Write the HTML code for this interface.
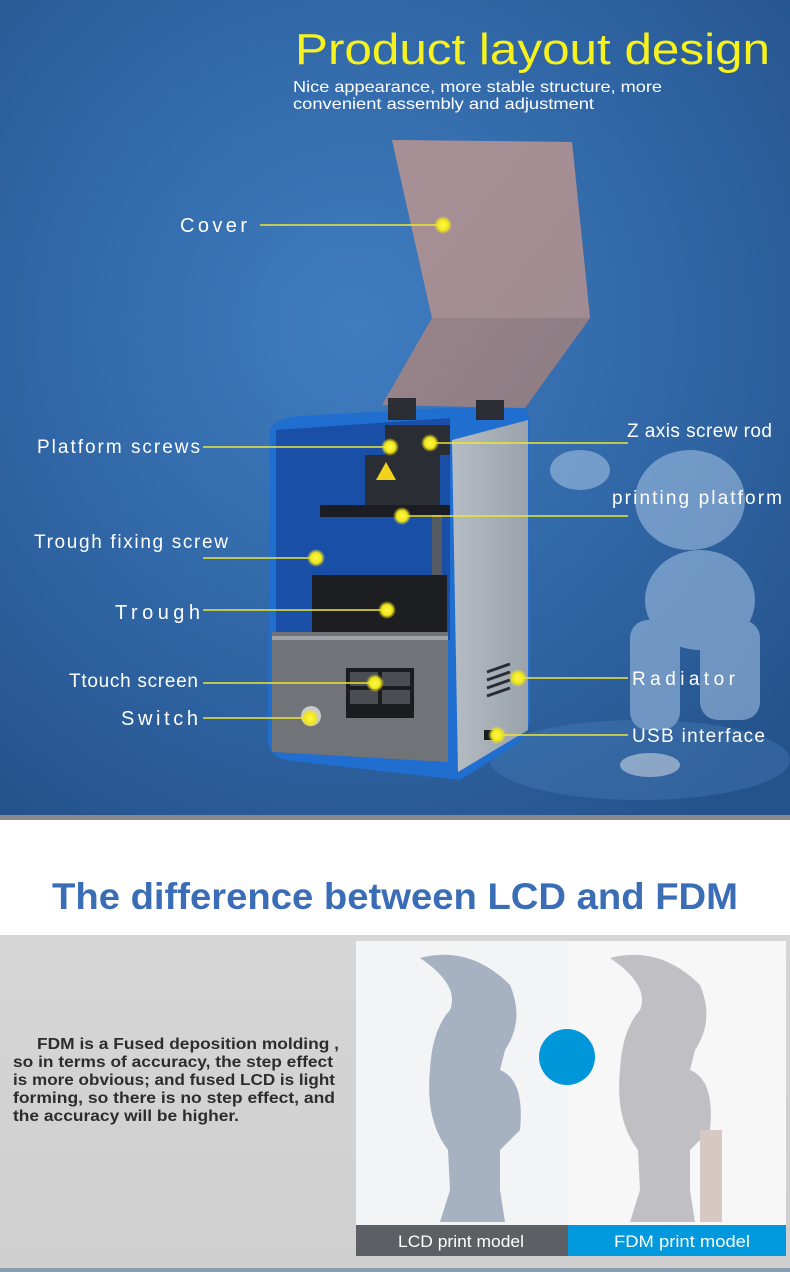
<!DOCTYPE html>
<html><head><meta charset="utf-8"><style>
body{margin:0;width:790px;height:1272px;overflow:hidden;font-family:"Liberation Sans",sans-serif;background:#fff}
</style></head><body>
<svg width="790" height="1272" viewBox="0 0 790 1272" xmlns="http://www.w3.org/2000/svg" style="position:absolute;left:0;top:0">
<defs>
<radialGradient id="bg" cx="0.45" cy="0.4" r="0.75">
<stop offset="0" stop-color="#3f7dc0"/><stop offset="0.6" stop-color="#2f64a3"/><stop offset="1" stop-color="#24528a"/></radialGradient>
<linearGradient id="cov" x1="0" y1="0" x2="1" y2="1"><stop offset="0" stop-color="#a08a8e"/><stop offset="1" stop-color="#8c7b83"/></linearGradient>
<linearGradient id="side" x1="0" y1="0" x2="1" y2="0"><stop offset="0" stop-color="#b5bcc4"/><stop offset="1" stop-color="#9aa2ab"/></linearGradient>
<linearGradient id="gr" x1="0" y1="0" x2="0" y2="1"><stop offset="0" stop-color="#d6d6d6"/><stop offset="1" stop-color="#cfcfcf"/></linearGradient>
<radialGradient id="dot"><stop offset="0" stop-color="#fff94a"/><stop offset="0.6" stop-color="#f0e61a"/><stop offset="1" stop-color="#f0e61a" stop-opacity="0"/></radialGradient>
</defs>
<rect x="0" y="0" width="790" height="815" fill="url(#bg)"/>
<rect x="0" y="815" width="790" height="5" fill="#3a3a3a" opacity="0.6"/>
<!-- robot -->
<g fill="#a9c6e6" opacity="0.55">
<ellipse cx="640" cy="760" rx="150" ry="40" fill="#4f86c0" opacity="0.6"/>
<ellipse cx="690" cy="500" rx="55" ry="50"/>
<ellipse cx="700" cy="600" rx="55" ry="50"/>
<rect x="630" y="620" width="50" height="110" rx="18"/>
<rect x="700" y="620" width="60" height="100" rx="18"/>
<ellipse cx="580" cy="470" rx="30" ry="20"/>
<ellipse cx="650" cy="765" rx="30" ry="12" fill="#dfe8f2"/>
</g>
<!-- cover -->
<polygon points="392,140 572,142 590,318 525,408 382,405 432,318" fill="url(#cov)"/>
<polygon points="392,140 572,142 590,318 432,318" fill="#a99398" opacity="0.7"/>
<!-- printer -->
<path d="M270,430 Q275,418 300,416 L445,408 L525,408 L530,420 L530,720 Q528,735 515,745 L460,780 L285,760 Q268,755 268,740 Z" fill="#1f6ed0"/>
<polygon points="276,430 450,418 450,640 276,640" fill="#1a4fa8"/>
<polygon points="452,440 528,420 528,730 458,772" fill="url(#side)"/>
<rect x="320" y="505" width="130" height="12" fill="#1b1d22"/>
<rect x="365" y="455" width="75" height="50" fill="#2a2d33"/>
<polygon points="386,462 396,480 376,480" fill="#f2d21b"/>
<rect x="385" y="425" width="65" height="30" fill="#2a2d33"/>
<rect x="432" y="515" width="10" height="90" fill="#555b63"/>
<rect x="312" y="575" width="135" height="60" fill="#1c1e22"/>
<polygon points="272,632 448,632 448,762 272,752" fill="#707378"/>
<rect x="272" y="636" width="176" height="4" fill="#a0a3a8"/>
<rect x="346" y="668" width="68" height="50" fill="#1b1c1f"/>
<rect x="350" y="672" width="28" height="14" fill="#4a4d52"/><rect x="382" y="672" width="28" height="14" fill="#4a4d52"/>
<rect x="350" y="690" width="28" height="14" fill="#4a4d52"/><rect x="382" y="690" width="28" height="14" fill="#4a4d52"/>
<circle cx="311" cy="716" r="10" fill="#c8cacc"/>
<g stroke="#2a2d33" stroke-width="3"><line x1="487" y1="672" x2="510" y2="664"/><line x1="487" y1="680" x2="510" y2="672"/><line x1="487" y1="688" x2="510" y2="680"/><line x1="487" y1="696" x2="510" y2="688"/></g>
<rect x="484" y="730" width="10" height="10" fill="#1b1c1f"/>
<rect x="388" y="398" width="28" height="22" fill="#2a2d33"/><rect x="476" y="400" width="28" height="20" fill="#2a2d33"/>
<!-- leader lines -->
<g stroke="#eee633" stroke-width="1.5">
<line x1="260" y1="225" x2="443" y2="225"/>
<line x1="203" y1="447" x2="390" y2="447"/>
<line x1="430" y1="443" x2="628" y2="443"/>
<line x1="402" y1="516" x2="628" y2="516"/>
<line x1="203" y1="558" x2="316" y2="558"/>
<line x1="203" y1="610" x2="387" y2="610"/>
<line x1="203" y1="683" x2="375" y2="683"/>
<line x1="203" y1="718" x2="310" y2="718"/>
<line x1="518" y1="678" x2="628" y2="678"/>
<line x1="497" y1="735" x2="628" y2="735"/>
</g>
<g fill="url(#dot)">
<circle cx="443" cy="225" r="9"/><circle cx="390" cy="447" r="9"/><circle cx="430" cy="443" r="9"/>
<circle cx="402" cy="516" r="9"/><circle cx="316" cy="558" r="9"/><circle cx="387" cy="610" r="9"/>
<circle cx="375" cy="683" r="9"/><circle cx="310" cy="718" r="9"/><circle cx="518" cy="678" r="9"/><circle cx="497" cy="735" r="9"/>
</g>
<g fill="#fff" font-family="Liberation Sans, sans-serif">
<text x="295" y="64" font-size="44" fill="#f7f21e" textLength="475" lengthAdjust="spacingAndGlyphs">Product layout design</text>
<text x="293" y="92" font-size="16" textLength="369" lengthAdjust="spacingAndGlyphs">Nice appearance, more stable structure, more</text>
<text x="293" y="109" font-size="16" textLength="301" lengthAdjust="spacingAndGlyphs">convenient assembly and adjustment</text>
<text x="180" y="232" font-size="20" textLength="67">Cover</text>
<text x="37" y="453" font-size="19" textLength="163">Platform screws</text>
<text x="627" y="437" font-size="19" textLength="145">Z axis screw rod</text>
<text x="612" y="504" font-size="19" textLength="170">printing platform</text>
<text x="34" y="548" font-size="19" textLength="194">Trough fixing screw</text>
<text x="115" y="619" font-size="20" textLength="85">Trough</text>
<text x="69" y="687" font-size="19" textLength="129">Ttouch screen</text>
<text x="121" y="725" font-size="20" textLength="77">Switch</text>
<text x="632" y="685" font-size="19" textLength="103">Radiator</text>
<text x="632" y="742" font-size="19" textLength="133">USB interface</text>
</g>
<!-- lower section -->
<text x="52" y="909" font-size="37" font-weight="bold" fill="#3a6db6" textLength="686" lengthAdjust="spacingAndGlyphs" font-family="Liberation Sans, sans-serif">The difference between LCD and FDM</text>
<rect x="0" y="935" width="790" height="333" fill="url(#gr)"/>
<rect x="0" y="1268" width="790" height="4" fill="#8a9cb0"/>
<rect x="356" y="941" width="430" height="284" fill="#f3f4f6"/>
<rect x="568" y="941" width="218" height="284" fill="#f7f7f8"/>
<!-- busts -->
<g fill="#a6b2c2">
<path d="M420,958 Q470,945 510,985 Q525,1020 505,1050 L500,1070 Q525,1080 520,1130 L500,1150 L500,1190 L505,1222 L440,1222 L450,1190 L448,1150 Q425,1120 430,1070 Q432,1030 450,1010 Q460,985 420,958Z"/>
<path d="M610,958 Q660,945 700,985 Q715,1020 695,1050 L690,1070 Q715,1080 710,1130 L690,1150 L690,1190 L695,1222 L630,1222 L640,1190 L638,1150 Q615,1120 620,1070 Q622,1030 640,1010 Q650,985 610,958Z" fill="#c0c0c4"/>
<rect x="700" y="1130" width="22" height="92" fill="#d8c8c4"/>
</g>
<ellipse cx="567" cy="1057" rx="28" ry="28" fill="#0096da"/>
<rect x="356" y="1225" width="212" height="31" fill="#5c5f64"/>
<rect x="568" y="1225" width="218" height="31" fill="#0099de"/>
<g font-family="Liberation Sans, sans-serif" font-size="17" fill="#fff">
<text x="398" y="1247" textLength="126" lengthAdjust="spacingAndGlyphs">LCD print model</text>
<text x="614" y="1247" textLength="136" lengthAdjust="spacingAndGlyphs">FDM print model</text>
</g>
<g font-family="Liberation Sans, sans-serif" font-size="16" font-weight="bold" fill="#2d2d2d" lengthAdjust="spacingAndGlyphs">
<text x="37" y="1049" textLength="302" lengthAdjust="spacingAndGlyphs">FDM is a Fused deposition molding ,</text>
<text x="13" y="1067" textLength="320" lengthAdjust="spacingAndGlyphs">so in terms of accuracy, the step effect</text>
<text x="13" y="1085" textLength="322" lengthAdjust="spacingAndGlyphs">is more obvious; and fused LCD is light</text>
<text x="13" y="1103" textLength="322" lengthAdjust="spacingAndGlyphs">forming, so there is no step effect, and</text>
<text x="13" y="1121" textLength="226" lengthAdjust="spacingAndGlyphs">the accuracy will be higher.</text>
</g>
</svg>
</body></html>
